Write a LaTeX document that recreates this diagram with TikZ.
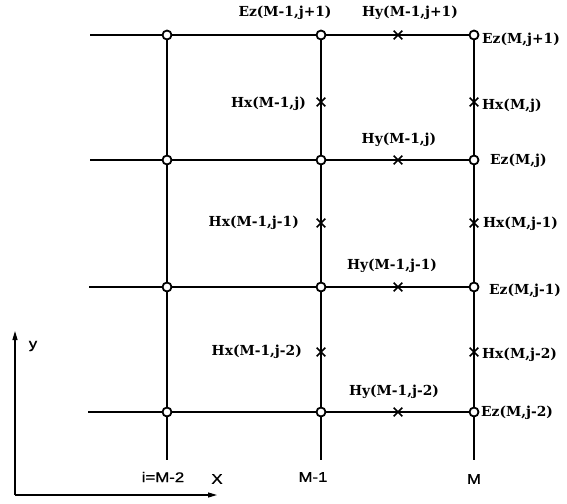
\documentclass[tikz,border=0pt]{standalone}
\usepackage{fontspec}
\newfontfamily\sanslab[FakeStretch=1.2,FakeBold=1.2]{Liberation Sans}
\newfontfamily\serlab{DejaVu Serif}
\usetikzlibrary{shapes.misc,arrows.meta}
\begin{document}
\begin{tikzpicture}[x=1pt,y=-1pt,
  ez/.style={circle,draw,line width=1.8pt,inner sep=0pt,minimum size=9pt,fill=white},
  hm/.style={cross out,draw,line width=1.6pt,inner sep=0pt,minimum size=7pt},
  hline/.style={line width=1.2pt},
  vline/.style={line width=1.8pt},
  lab/.style={font=\fontsize{13.8}{16}\serlab\bfseries,inner sep=0pt},
  sl/.style={font=\fontsize{14}{16}\sanslab,inner sep=0pt},
  axis/.style={line width=1.2pt,-{Triangle[length=9pt,width=5pt]}}]
\useasboundingbox (0,0) rectangle (567,503);
% free ends
\coordinate (l1) at (90,35);
\coordinate (l2) at (90,160);
\coordinate (l3) at (89,287);
\coordinate (l4) at (88,412);
\coordinate (bA) at (167,460);
\coordinate (bB) at (321,460);
\coordinate (bC) at (474,460);
% Ez nodes
\foreach \c/\x in {A/167,B/321,C/474}{
  \foreach \r/\y in {1/35,2/160,3/287,4/412}{
    \node[ez] (e\c\r) at (\x,\y) {};
  }
}
% lines
\foreach \r in {1,2,3,4}{
  \draw[hline] (l\r) -- (eA\r) -- (eB\r) -- (eC\r);
}
\foreach \c in {A,B,C}{
  \draw[vline] (e\c1) -- (e\c2) -- (e\c3) -- (e\c4) -- (b\c);
}
% Hx nodes
\node[hm] (xB1) at (321,102) {};
\node[hm] (xB2) at (321,223) {};
\node[hm] (xB3) at (321,352) {};
\node[hm] (xC1) at (474,102) {};
\node[hm] (xC2) at (474,223) {};
\node[hm] (xC3) at (474,352) {};
% Hy nodes
\node[hm] (y1) at (398,35) {};
\node[hm] (y2) at (398,160) {};
\node[hm] (y3) at (398,287) {};
\node[hm] (y4) at (398,412) {};
% labels
\node[lab] at (285,13) {Ez(M-1,j+1)};
\node[lab] at (410,13) {Hy(M-1,j+1)};
\node[lab,anchor=west] at (482,40) {Ez(M,j+1)};
\node[lab,anchor=east] at (306,104) {Hx(M-1,j)};
\node[lab,anchor=west] at (482,106) {Hx(M,j)};
\node[lab] at (399,140) {Hy(M-1,j)};
\node[lab,anchor=west] at (490,161) {Ez(M,j)};
\node[lab,anchor=east] at (299,223) {Hx(M-1,j-1)};
\node[lab,anchor=west] at (483,224) {Hx(M,j-1)};
\node[lab] at (392,266) {Hy(M-1,j-1)};
\node[lab,anchor=west] at (489,291) {Ez(M,j-1)};
\node[lab,anchor=east] at (302,352) {Hx(M-1,j-2)};
\node[lab,anchor=west] at (482,355) {Hx(M,j-2)};
\node[lab] at (394,392) {Hy(M-1,j-2)};
\node[lab,anchor=west] at (481,413) {Ez(M,j-2)};
% axis labels
\node[sl] (iA) at (163,477) {i=M-2};
\node[sl] (iB) at (313,477) {M-1};
\node[sl] (iC) at (474,479) {M};
\node[sl] (xl) at (217,479) {X};
\node[sl] (yl) at (33,346) {y};
% axes
\coordinate (o) at (15,495);
\coordinate (yt) at (15,331);
\coordinate (xt) at (217,495);
\draw[axis] (o) -- (yt);
\draw[axis] (o) -- (xt);
\end{tikzpicture}
\end{document}
